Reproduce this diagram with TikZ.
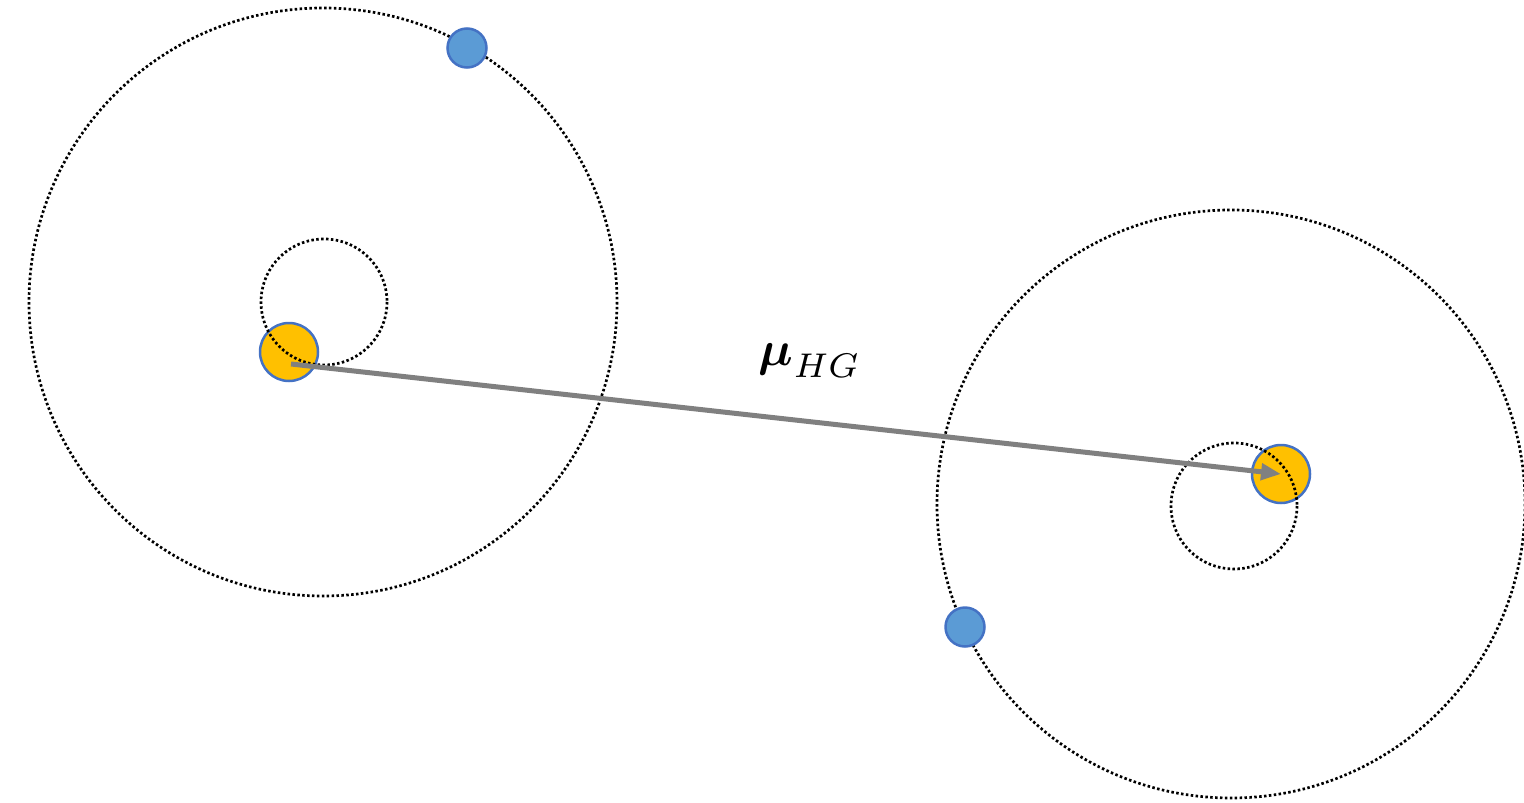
\documentclass[tikz,border=0pt]{standalone}
\usepackage{amsmath}
\usetikzlibrary{arrows.meta}
\definecolor{sunyellow}{HTML}{FFC000}
\definecolor{dotblue}{HTML}{5B9BD5}
\definecolor{rimblue}{HTML}{4472C4}
\definecolor{arrowgray}{HTML}{808080}
\tikzset{
  orbit/.style={draw=black, line width=2.7pt, dash pattern=on 2.5pt off 2.4pt},
  star/.style={circle, fill=sunyellow, draw=rimblue, line width=2.5pt, minimum size=58pt, inner sep=0pt},
  planet/.style={circle, fill=dotblue, draw=rimblue, line width=2.5pt, minimum size=39pt, inner sep=0pt}
}
\begin{document}
\begin{tikzpicture}[x=1pt, y=-1pt]
  \useasboundingbox (0,0) rectangle (1524,803);
  % Sterne
  \node[star] (starL) at (289,352) {};
  \node[star] (starR) at (1281,474) {};
  % Bahnen
  \draw[orbit] (323,302) circle (294);
  \draw[orbit] (324,302) circle (63);
  \draw[orbit] (1231,504) circle (294);
  \draw[orbit] (1234,506) circle (63);
  % Vektor zwischen den Zentren
  \coordinate (muStart) at (291,364);
  \draw[arrowgray, line width=5pt, -{Triangle[length=20pt, width=16pt]}] (muStart) -- (starR.center);
  \node[inner sep=0pt] (muLabel) at (810,361) {\scalebox{4.9}{$\boldsymbol{\mu}_{HG}$}};
  % Planeten
  \node[planet] (planetL) at (467,48) {};
  \node[planet] (planetR) at (965,627) {};
\end{tikzpicture}
\end{document}
